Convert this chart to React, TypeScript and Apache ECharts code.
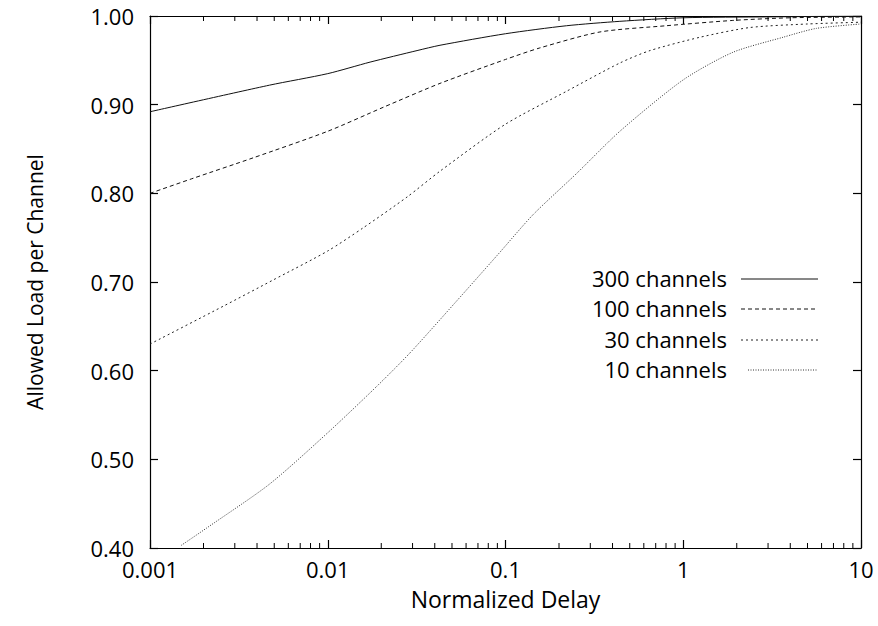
import React, { useEffect, useRef } from "react";
import * as echarts from "echarts";

const seriesNames = ["300 channels", "100 channels", "30 channels", "10 channels"];

const x300 = [0.001, 0.0047, 0.01, 0.0173, 0.0318, 0.0428, 0.1, 0.22, 0.44, 1, 3, 10];
const y300 = [0.892, 0.922, 0.935, 0.948, 0.961, 0.967, 0.98, 0.989, 0.994, 0.998, 0.999, 1.0];

const x100 = [0.001, 0.00175, 0.0038, 0.01, 0.0205, 0.0428, 0.1, 0.156, 0.34, 0.8, 1.9, 4, 10];
const y100 = [0.8, 0.817, 0.84, 0.87, 0.897, 0.924, 0.951, 0.964, 0.982, 0.989, 0.995, 0.998, 0.999];

const x30 = [0.001, 0.0026, 0.0049, 0.01, 0.0158, 0.028, 0.0428, 0.1, 0.22, 0.44, 0.65, 1.24, 2.37, 5, 10];
const y30 = [0.63, 0.673, 0.702, 0.735, 0.761, 0.796, 0.825, 0.878, 0.915, 0.947, 0.961, 0.976, 0.987, 0.991, 0.993];

const x10 = [0.0015, 0.0021, 0.0047, 0.01, 0.0188, 0.029, 0.055, 0.0925, 0.143, 0.25, 0.44, 1, 1.9, 3.64, 5.6, 10];
const y10 = [0.403, 0.423, 0.472, 0.53, 0.582, 0.62, 0.682, 0.733, 0.776, 0.822, 0.87, 0.928, 0.959, 0.976, 0.986, 0.991];

const xTickLabels = ["0.001", "0.01", "0.1", "1", "10"];
const yTickLabels = ["0.40", "0.50", "0.60", "0.70", "0.80", "0.90", "1.00"];

const minorTickValues = [
  0.002, 0.003, 0.004, 0.005, 0.006, 0.007, 0.008, 0.009,
  0.02, 0.03, 0.04, 0.05, 0.06, 0.07, 0.08, 0.09,
  0.2, 0.3, 0.4, 0.5, 0.6, 0.7, 0.8, 0.9,
  2, 3, 4, 5, 6, 7, 8, 9,
];

const FONT = "Open Sans";
const lineDashes: (number[] | null)[] = [null, [4, 3], [2, 3], [1, 1.5]];
const lineColors = ["#111", "#111", "#222", "#333"];

function zip(xs: number[], ys: number[]) {
  return xs.map((x, i) => [x, ys[i]]);
}

export default function App() {
  const ref = useRef<HTMLDivElement>(null);
  useEffect(() => {
    if (!ref.current) return;
    const chart = echarts.init(ref.current, null, { renderer: "svg" });
    const datasets = [zip(x300, y300), zip(x100, y100), zip(x30, y30), zip(x10, y10)];

    const xLabelFmt = (v: number) => {
      const e = Math.round(Math.log10(v));
      return xTickLabels[e + 3] ?? "";
    };
    const yLabelFmt = (v: number) => {
      const i = Math.round((v - 0.4) * 10);
      return yTickLabels[i] ?? "";
    };

    const legendRowsY = [278, 308, 339, 369];
    const legendGraphics: any[] = [];
    seriesNames.forEach((name, i) => {
      legendGraphics.push({
        type: "text",
        x: 727,
        y: legendRowsY[i],
        style: {
          text: name,
          textAlign: "right",
          textVerticalAlign: "middle",
          font: `22px "${FONT}"`,
          fill: "#000",
        },
      });
      legendGraphics.push({
        type: "line",
        shape: { x1: i === 3 ? 748 : 741, y1: legendRowsY[i] + 1, x2: 818, y2: legendRowsY[i] + 1 },
        style: {
          stroke: lineColors[i],
          lineWidth: 1,
          lineDash: lineDashes[i] ?? undefined,
        },
      });
    });

    const axisCommon = {
      axisLine: { show: true, lineStyle: { color: "#000", width: 1.2 } },
      axisTick: { show: true, inside: true, length: 8, lineStyle: { color: "#000", width: 1.2 } },
      splitLine: { show: false },
    };

    chart.setOption({
      animation: false,
      backgroundColor: "#fff",
      grid: { left: 150, right: 17, top: 16, bottom: 78, containLabel: false },
      xAxis: [
        {
          type: "log",
          logBase: 10,
          min: 0.001,
          max: 10,
          position: "bottom",
          name: "Normalized Delay",
          nameLocation: "middle",
          nameGap: 39,
          nameTextStyle: { fontFamily: FONT, fontSize: 23, color: "#000", lineHeight: 23 },
          axisLabel: { formatter: xLabelFmt, fontFamily: FONT, fontSize: 22, color: "#000", margin: 10, lineHeight: 22 },
          ...axisCommon,
        },
        {
          type: "log",
          logBase: 10,
          min: 0.001,
          max: 10,
          position: "top",
          axisLabel: { show: false },
          ...axisCommon,
        },
      ],
      yAxis: [
        {
          type: "value",
          min: 0.4,
          max: 1.0,
          interval: 0.1,
          position: "left",
          name: "Allowed Load per Channel",
          nameLocation: "middle",
          nameGap: 105,
          nameTextStyle: { fontFamily: FONT, fontSize: 21, color: "#000" },
          axisLabel: { formatter: yLabelFmt, fontFamily: FONT, fontSize: 22, color: "#000", margin: 16 },
          ...axisCommon,
        },
        {
          type: "value",
          min: 0.4,
          max: 1.0,
          interval: 0.1,
          position: "right",
          axisLabel: { show: false },
          ...axisCommon,
        },
      ],
      series: [
        ...datasets.map((d, i) => ({
          name: seriesNames[i],
          type: "line",
          xAxisIndex: 0,
          yAxisIndex: 0,
          data: d,
          showSymbol: false,
          smooth: 0.25,
          clip: true,
          lineStyle: {
            color: lineColors[i],
            width: 1,
            type: lineDashes[i] ?? "solid",
          },
          silent: true,
        })),
        {
          type: "custom",
          xAxisIndex: 0,
          yAxisIndex: 0,
          silent: true,
          clip: false,
          data: minorTickValues.map((v) => [v, 0.4]),
          renderItem: (params: any, api: any) => {
            const x = api.value(0);
            const b = api.coord([x, 0.4]);
            const t = api.coord([x, 1.0]);
            return {
              type: "group",
              children: [
                { type: "line", shape: { x1: b[0], y1: b[1], x2: b[0], y2: b[1] - 5 }, style: { stroke: "#000", lineWidth: 1 } },
                { type: "line", shape: { x1: t[0], y1: t[1], x2: t[0], y2: t[1] + 5 }, style: { stroke: "#000", lineWidth: 1 } },
              ],
            };
          },
        },
      ],
      graphic: legendGraphics,
    });
    return () => chart.dispose();
  }, []);
  return <div ref={ref} style={{ position: "fixed", left: 0, top: 0, width: 878, height: 626 }} />;
}
